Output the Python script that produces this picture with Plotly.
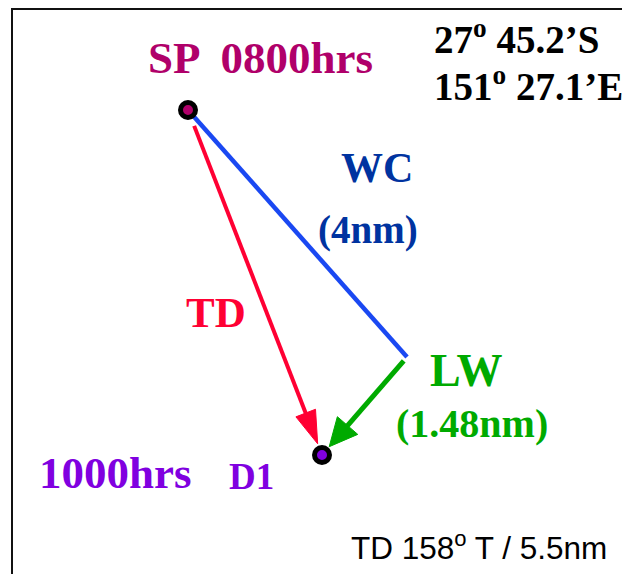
import numpy as np
import plotly.graph_objects as go

# ---- data (diagram coordinates, y grows downward) ----
point_names = ["SP", "WC", "D1"]
point_x = [188, 407, 322]
point_y = [110, 357, 455]

# vectors: (from, to)
wc_vector = ("SP", "WC")
td_vector = ("SP", "D1")
lw_vector = ("WC", "D1")

pos_lat = "27<sup>o</sup> 45.2’S"
pos_lon = "151<sup>o</sup> 27.1’E"
td_summary = "TD 158<sup>o</sup> T / 5.5nm"

P = {n: np.array([x, y], float) for n, x, y in zip(point_names, point_x, point_y)}

SERIF = "Liberation Serif"
SANS = "Liberation Sans"

fig = go.Figure()


def arrow(a, b, color, width, start_off, end_off, head_len, head_w, name):
    pa, pb = P[a], P[b]
    u = (pb - pa) / np.linalg.norm(pb - pa)
    n = np.array([-u[1], u[0]])
    start = pa + u * start_off
    tip = pb - u * end_off
    base = tip - u * head_len
    fig.add_trace(go.Scatter(x=[start[0], base[0] + u[0] * 2], y=[start[1], base[1] + u[1] * 2],
                             mode="lines", line=dict(color=color, width=width),
                             hoverinfo="skip", showlegend=False, name=name))
    c1 = base + n * head_w / 2
    c2 = base - n * head_w / 2
    fig.add_trace(go.Scatter(x=[tip[0], c1[0], c2[0], tip[0]], y=[tip[1], c1[1], c2[1], tip[1]],
                             mode="lines", fill="toself", fillcolor=color,
                             line=dict(color=color, width=1),
                             hoverinfo="skip", showlegend=False, name=name + " head"))


# WC line (no head)
a, b = wc_vector
fig.add_trace(go.Scatter(x=[P[a][0], P[b][0]], y=[P[a][1], P[b][1]], mode="lines",
                         line=dict(color="#1A48F2", width=4.5), hoverinfo="skip", showlegend=False))
# TD arrow
arrow(*td_vector, color="#FF0033", width=4, start_off=17, end_off=12, head_len=33, head_w=21, name="TD")
# LW arrow
arrow(*lw_vector, color="#00AA00", width=5, start_off=5, end_off=11, head_len=28, head_w=27, name="LW")

# position markers
fig.add_trace(go.Scatter(x=[P["SP"][0]], y=[P["SP"][1]], mode="markers",
                         marker=dict(size=15, color="#B0006A", line=dict(color="black", width=5)),
                         hoverinfo="skip", showlegend=False))
fig.add_trace(go.Scatter(x=[P["D1"][0]], y=[P["D1"][1]], mode="markers",
                         marker=dict(size=15, color="#8000E0", line=dict(color="black", width=5)),
                         hoverinfo="skip", showlegend=False))


def label(text, x, y, color, size, family=SERIF, bold=True, xanchor="center"):
    fig.add_annotation(x=x, y=y, xref="x", yref="y", text=(f"<b>{text}</b>" if bold else text),
                       showarrow=False, xanchor=xanchor, yanchor="middle",
                       font=dict(family=family, size=size, color=color))


label("SP  0800hrs", 146, 58, "#B0006A", 45, xanchor="left")
label(pos_lat, 432, 37, "black", 39, xanchor="left")
label(pos_lon, 432, 84, "black", 39, xanchor="left")
label("WC", 377, 168, "#0033A0", 42)
label("(4nm)", 368, 230, "#0033A0", 39)
label("TD", 216, 312, "#FF0033", 43)
label("LW", 466, 370, "#00AA00", 46)
label("(1.48nm)", 472, 423, "#00AA00", 40)
label("1000hrs", 37, 473, "#8000E0", 45, xanchor="left")
label("D1", 227, 476, "#8000E0", 37, xanchor="left")
label(td_summary, 349, 546, "black", 31.5, family=SANS, bold=False, xanchor="left")

# frame
fig.add_shape(type="rect", xref="x", yref="y", x0=12, y0=9, x1=700, y1=700,
              line=dict(color="#111111", width=2), layer="below")

# page body has an 8px margin: the axes start at screen pixel 8
fig.update_layout(
    width=622, height=566,
    margin=dict(l=0, r=0, t=0, b=0),
    paper_bgcolor="white", plot_bgcolor="white",
    xaxis=dict(range=[8, 630], visible=False, fixedrange=True),
    yaxis=dict(range=[574, 8], visible=False, fixedrange=True),
    showlegend=False,
)

fig.write_html("out.html")
